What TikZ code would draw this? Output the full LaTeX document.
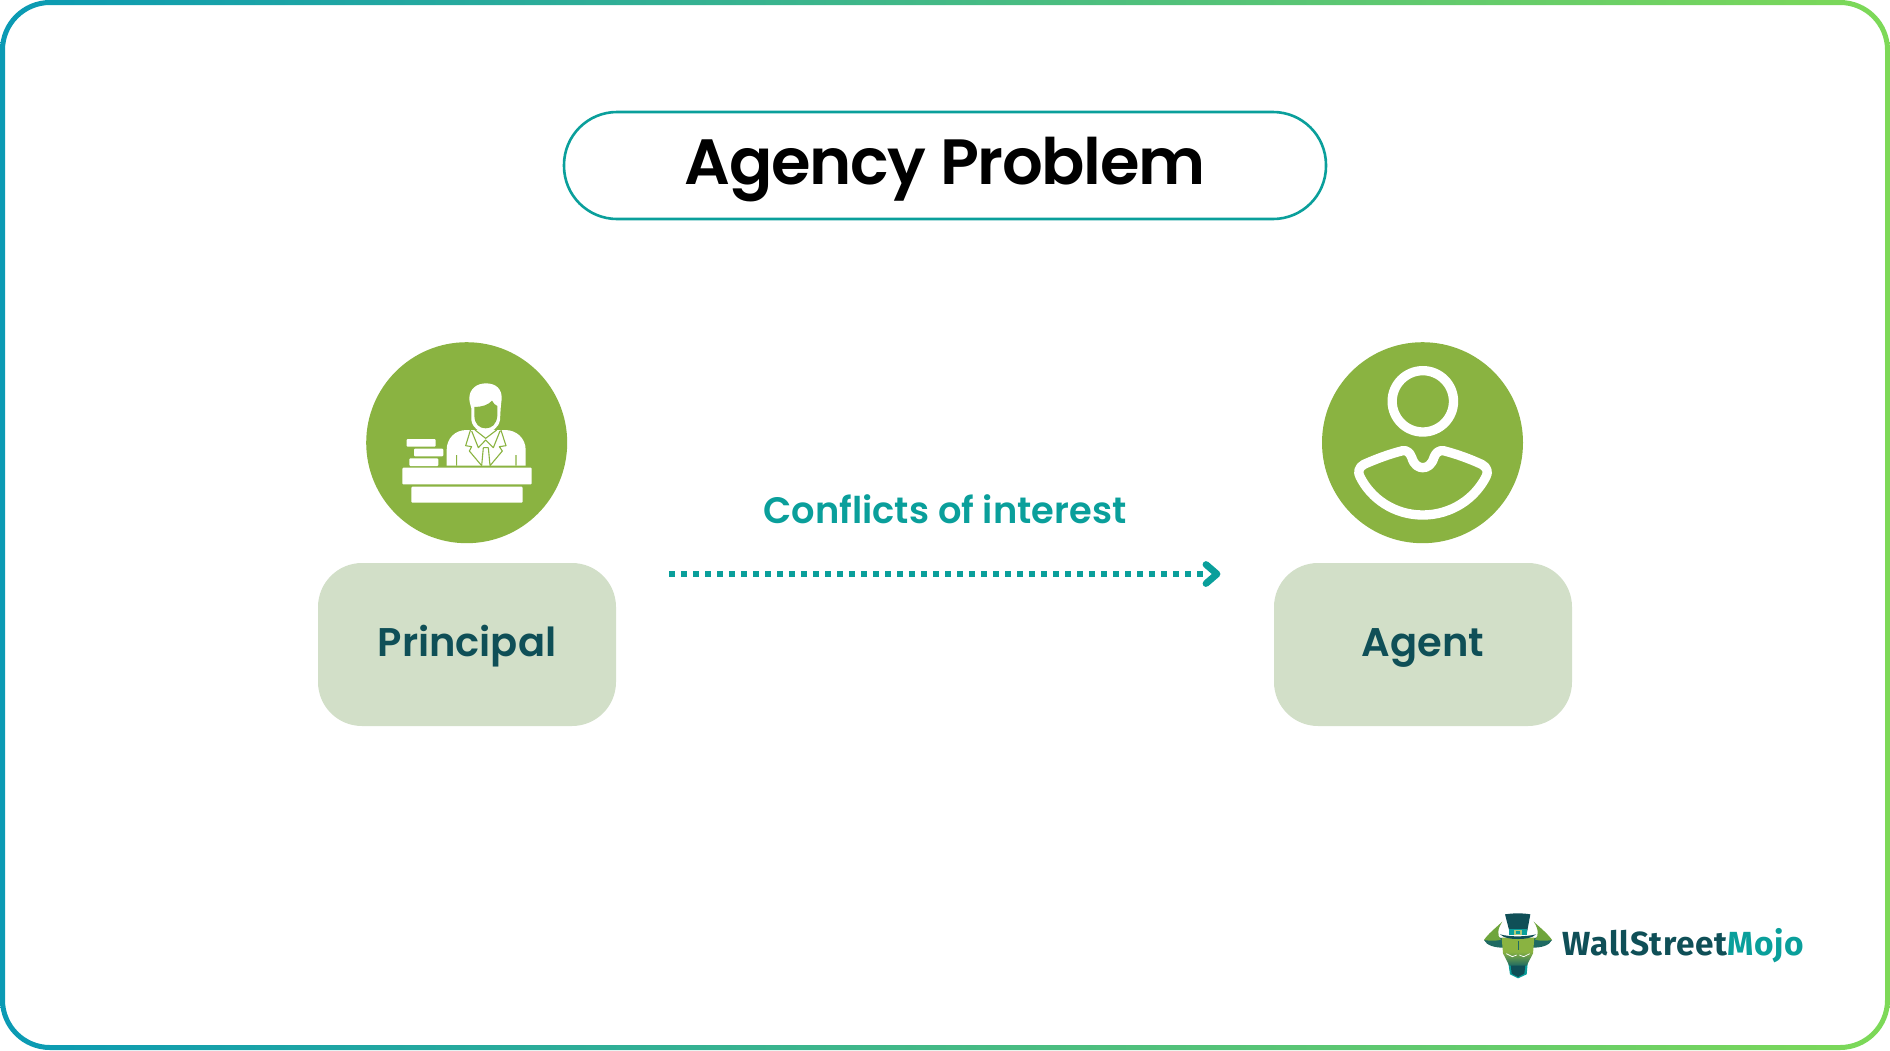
\documentclass[tikz,border=0pt]{standalone}
\usepackage{fontspec}
\setmainfont{Poppins}
\newfontfamily\semi{Poppins SemiBold}
\newfontfamily\headfont[LetterSpace=-2.1]{Poppins SemiBold}
\newfontfamily\logofont[LetterSpace=2.0]{Fira Sans}
\definecolor{leaf}{HTML}{8AB341}
\definecolor{pale}{HTML}{D2DFC8}
\definecolor{deep}{HTML}{0F4F57}
\definecolor{teal}{HTML}{0A9F9B}
\definecolor{frameL}{HTML}{0A9AB4}
\definecolor{frameR}{HTML}{7DD957}
\definecolor{hornlight}{HTML}{6FA53C}
\definecolor{hornDark}{HTML}{1F6A62}
\tikzset{
  px/.style={x=0.5pt,y=-0.5pt},
  zoomed/.style={x=0.16667pt,y=-0.16667pt},
  roleicon/.style={circle,fill=leaf,minimum size=100.5pt,inner sep=0pt},
  rolebox/.style={rectangle,rounded corners=22pt,fill=pale,minimum width=149pt,minimum height=81.5pt,inner sep=0pt,
    text=deep,font=\semi\fontsize{20}{24}\selectfont},
  titlepill/.style={rectangle,rounded corners=26.5pt,draw=teal,line width=1.3pt,fill=white,minimum width=381pt,minimum height=53.5pt,
    inner sep=0pt,text=black},
  flowlabel/.style={text=teal,font=\semi\fontsize{18.4}{22}\selectfont,inner sep=0pt},
  wm/.style={inner sep=0pt,anchor=west,font=\logofont\bfseries\fontsize{16.7}{20}\selectfont},
  whitefill/.style={fill=white,rounded corners=0.5pt},
}
\newcommand{\rolelabel}[1]{\raisebox{-6pt}[0pt][0pt]{#1}}
\begin{document}
\begin{tikzpicture}[px]
\useasboundingbox (0,0) rectangle (1890,1050);
% gradient frame
\shade[even odd rule,left color=frameL,right color=frameR]
  [rounded corners=25pt] (0,0) rectangle (1890,1050)
  [rounded corners=22.5pt] (5,5) rectangle (1885,1045);

\node[titlepill] (title) at (945,165.5) {};
\node[inner sep=0pt,text=black,font=\headfont\fontsize{32}{38}\selectfont] (titletext) at (945,170) {Agency Problem};

\node[roleicon] (pcircle) at (466.7,442.7) {};
\node[roleicon] (acircle) at (1422.5,442.7) {};
\node[rolebox] (principal) at (467,644.5) {\rolelabel{Principal}};
\node[rolebox] (agent) at (1423,644.5) {\rolelabel{Agent}};

% dotted relation between the two roles
\coordinate (flowA) at (669,574);
\coordinate (flowB) at (1204,574);
\coordinate (tipA) at (1206,564.5);
\coordinate (tipB) at (1217,574);
\coordinate (tipC) at (1206,583.5);
\draw[teal,line width=3pt,dash pattern=on 3pt off 3pt] (flowA) -- (flowB);
\draw[teal,line width=3.4pt,line cap=round,line join=round] (tipA) -- (tipB) -- (tipC);
\node[flowlabel] (flow) at (945,509) {Conflicts of interest};

% principal at a desk
\begin{scope}[shift={(350,330)},zoomed]
  \fill[whitefill] (157,413) rectangle (545,463);
  \fill[whitefill] (184,470) rectangle (518,518);
  \fill[whitefill] (170,327) rectangle (257,350);
  \fill[whitefill] (192,356) rectangle (280,379);
  \fill[whitefill] (178,385) rectangle (265,408);
\end{scope}
\begin{scope}[shift={(430,375)},zoomed]
  % jacket
  \fill[white] (50,272) -- (50,225) .. controls (50,190) and (75,165) .. (110,165) -- (225,165)
     .. controls (260,165) and (287,190) .. (287,225) -- (287,272) -- cycle;
  % hair and head
  \fill[white] (118,70) .. controls (118,42) and (140,25) .. (168,25)
     .. controls (198,25) and (215,42) .. (215,68) .. controls (215,80) and (212,90) .. (212,100) -- (210,135)
     .. controls (205,160) and (185,172) .. (167,172) .. controls (148,172) and (128,160) .. (124,135) -- (124,100)
     .. controls (122,90) and (118,82) .. (118,70) -- cycle;
  \fill[leaf] (133,96) .. controls (155,96) and (175,90) .. (186,77)
     .. controls (190,85) and (196,91) .. (202,93) -- (202,122)
     .. controls (200,148) and (185,160) .. (167,160) .. controls (148,160) and (134,148) .. (133,122) -- cycle;
  % lapels, collar, tie and sleeves
  \draw[leaf,line width=0.55pt,line join=round]
    (122,163) -- (107,212) -- (125,215) -- (118,228) -- (155,272)
    (212,163) -- (228,212) -- (208,215) -- (217,228) -- (180,272)
    (125,168) -- (145,218) -- (167,195) -- (190,218) -- (210,168)
    (135,165) -- (167,190) -- (200,165)
    (160,218) -- (155,272) (175,218) -- (180,272) (160,218) -- (175,218)
    (80,272) -- (80,240) (258,272) -- (258,240);
\end{scope}

% agent outline figure
\begin{scope}[shift={(1310,330)},zoomed]
  \draw[white,line width=4.67pt] (338.5,214) circle[radius=92];
  \draw[white,line width=4.67pt,line join=round]
    (278,362) .. controls (290,360) and (300,368) .. (305,382)
    .. controls (312,405) and (325,413) .. (338,413)
    .. controls (352,413) and (365,405) .. (372,382)
    .. controls (377,368) and (388,360) .. (400,362)
    .. controls (440,372) and (480,387) .. (515,403)
    .. controls (533,412) and (535,428) .. (528,440)
    .. controls (495,505) and (425,555) .. (338,555)
    .. controls (252,555) and (182,505) .. (150,440)
    .. controls (143,428) and (145,412) .. (162,403)
    .. controls (198,387) and (238,372) .. (278,362) -- cycle;
\end{scope}

% brand mark: horned head wearing a top hat
\begin{scope}[shift={(1475,905)},zoomed]
  \fill[hornDark] (27,105) .. controls (35,122) and (60,128) .. (85,128) -- (85,100) -- (60,95) -- cycle;
  \fill[hornDark] (231,105) .. controls (223,122) and (198,128) .. (173,128) -- (173,100) -- (198,95) -- cycle;
  \fill[hornlight] (82,50) .. controls (60,70) and (38,88) .. (27,105) .. controls (45,108) and (65,108) .. (78,104) .. controls (65,92) and (68,70) .. cycle;
  \fill[hornlight] (176,50) .. controls (198,70) and (220,88) .. (231,105) .. controls (213,108) and (193,108) .. (180,104) .. controls (193,92) and (190,70) .. cycle;
  \fill[teal] (100,175) -- (158,175) -- (155,208) -- (129,220) -- (105,208) -- cycle;
  \fill[deep] (107,180) -- (151,180) -- (148,206) -- (129,216) -- (110,206) -- cycle;
  \shade[top color=leaf,bottom color=hornDark,middle color=leaf] (80,98) -- (178,98) -- (174,145) -- (155,182) -- (103,182) -- (84,145) -- cycle;
  \draw[white,line width=0.35pt] (94,146) -- (112,155) -- (125,150) (164,146) -- (146,155) -- (133,150);
  \draw[hornDark,line width=0.25pt] (129,108) -- (129,135);
  \fill[deep] (90,28) .. controls (115,24) and (143,24) .. (166,28) -- (156,82) -- (104,82) -- cycle;
  \fill[teal] (103,73) rectangle (157,90);
  \fill[leaf!70!white] (118,74) rectangle (140,90);
  \fill[teal] (123,78) rectangle (135,86);
  \fill[deep] (75,88) .. controls (105,96) and (150,96) .. (183,88) .. controls (170,100) and (150,102) .. (129,102) .. controls (108,102) and (88,100) .. cycle;
\end{scope}
\node[wm] (brand) at (1562,945.5) {\textcolor{deep}{WallStreet}\textcolor{teal}{Mojo}};
\end{tikzpicture}
\end{document}
